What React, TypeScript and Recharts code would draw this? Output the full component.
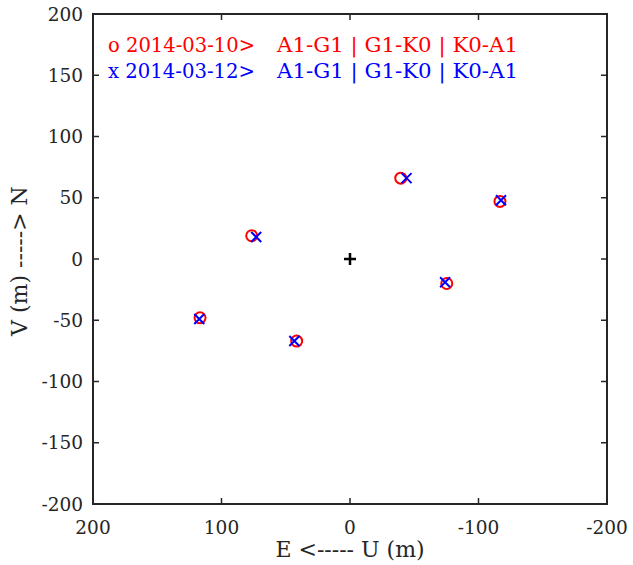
import { ScatterChart, Scatter, XAxis, YAxis, ReferenceArea } from 'recharts';

// 2014-03-10 (red circles)
const firstX = [-39.5, -116.7, 76.5, -75.3, 116.7, 41.5];
const firstY = [66, 47, 19, -20, -48, -67];
// 2014-03-12 (blue crosses)
const secondX = [-44, -117.5, 73, -74, 117.3, 43.3];
const secondY = [66, 48, 18, -19, -49, -67];
// reference point
const originX = [0];
const originY = [0];

const ticksX = [200, 100, 0, -100, -200];
const ticksY = [-200, -150, -100, -50, 0, 50, 100, 150, 200];

const toPoints = (xs: number[], ys: number[]) => xs.map((x, i) => ({ x, y: ys[i] }));

const FONT = 'DejaVu Serif';
const INK = '#262626';

// plot box edges (from chart margins / axis sizes)
const PLOT_TOP = 14;
const PLOT_BOTTOM = 504;
const PLOT_LEFT = 93;
const PLOT_RIGHT = 607;
const TICK_LEN = 6;

const RedCircle = ({ cx, cy }: any) => (
  <circle cx={cx} cy={cy} r={5.5} fill="none" stroke="#ff0000" strokeWidth={2} />
);

const BlueCross = ({ cx, cy }: any) => (
  <path
    d={`M${cx - 5},${cy - 5}L${cx + 5},${cy + 5}M${cx + 5},${cy - 5}L${cx - 5},${cy + 5}`}
    stroke="#0000ff"
    strokeWidth={2}
    fill="none"
  />
);

const BlackPlus = ({ cx, cy }: any) => (
  <path
    d={`M${cx - 6},${cy}L${cx + 6},${cy}M${cx},${cy - 6}L${cx},${cy + 6}`}
    stroke="#000"
    strokeWidth={2.5}
    fill="none"
  />
);

// matlab-style ticks: label outside, marks pointing in on both sides
const XTick = ({ x, y, payload }: any) => (
  <g>
    <line x1={x} x2={x} y1={PLOT_BOTTOM} y2={PLOT_BOTTOM - TICK_LEN} stroke={INK} strokeWidth={1.5} />
    <line x1={x} x2={x} y1={PLOT_TOP} y2={PLOT_TOP + TICK_LEN} stroke={INK} strokeWidth={1.5} />
    <text x={x} y={y} dy="0.71em" textAnchor="middle" fontFamily={FONT} fontSize={18.5} fill={INK}>
      {payload.value}
    </text>
  </g>
);

const YTick = ({ x, y, payload }: any) => (
  <g>
    <line x1={PLOT_LEFT} x2={PLOT_LEFT + TICK_LEN} y1={y} y2={y} stroke={INK} strokeWidth={1.5} />
    <line x1={PLOT_RIGHT} x2={PLOT_RIGHT - TICK_LEN} y1={y} y2={y} stroke={INK} strokeWidth={1.5} />
    <text x={x} y={y} dy="0.355em" textAnchor="end" fontFamily={FONT} fontSize={18.5} fill={INK}>
      {payload.value}
    </text>
  </g>
);

export default function App() {
  return (
    <div style={{ position: 'absolute', left: 0, top: 0, background: '#fff' }}>
      <ScatterChart width={633} height={565} margin={{ top: 14, right: 26, bottom: 0, left: 0 }}>
        <XAxis
          xAxisId="x"
          dataKey="x"
          type="number"
          domain={[-200, 200]}
          ticks={ticksX}
          reversed
          height={61}
          tickSize={0}
          tickMargin={17}
          tickLine={false}
          axisLine={false}
          tick={XTick}
        />
        <YAxis
          yAxisId="y"
          dataKey="y"
          type="number"
          domain={[-200, 200]}
          ticks={ticksY}
          width={93}
          tickSize={0}
          tickMargin={10}
          tickLine={false}
          axisLine={false}
          tick={YTick}
        />
        <ReferenceArea
          xAxisId="x"
          yAxisId="y"
          x1={-200}
          x2={200}
          y1={-200}
          y2={200}
          fill="none"
          fillOpacity={0}
          stroke={INK}
          strokeWidth={2}
          strokeOpacity={1}
        />
        <Scatter
          xAxisId="x"
          yAxisId="y"
          data={toPoints(originX, originY)}
          shape={BlackPlus}
          isAnimationActive={false}
        />
        <Scatter
          xAxisId="x"
          yAxisId="y"
          data={toPoints(firstX, firstY)}
          shape={RedCircle}
          isAnimationActive={false}
        />
        <Scatter
          xAxisId="x"
          yAxisId="y"
          data={toPoints(secondX, secondY)}
          shape={BlueCross}
          isAnimationActive={false}
        />
        <g style={{ fontFamily: FONT, fontSize: 20.5 }}>
          <text x={108} y={52} fill="#ff0000" textLength={147} lengthAdjust="spacingAndGlyphs">
            o 2014-03-10&gt;
          </text>
          <text x={277} y={52} fill="#ff0000" textLength={241} lengthAdjust="spacingAndGlyphs">
            A1-G1 | G1-K0 | K0-A1
          </text>
          <text x={108} y={78} fill="#0000ff" textLength={147} lengthAdjust="spacingAndGlyphs">
            x 2014-03-12&gt;
          </text>
          <text x={277} y={78} fill="#0000ff" textLength={241} lengthAdjust="spacingAndGlyphs">
            A1-G1 | G1-K0 | K0-A1
          </text>
        </g>
        <text
          x={350}
          y={557}
          textAnchor="middle"
          style={{ fontFamily: FONT, fontSize: 22, fill: INK }}
        >
          E &lt;----- U (m)
        </text>
        <text
          x={27}
          y={261}
          textAnchor="middle"
          transform="rotate(-90 27 261)"
          style={{ fontFamily: FONT, fontSize: 22, fill: INK }}
        >
          V (m) -----&gt; N
        </text>
      </ScatterChart>
    </div>
  );
}
